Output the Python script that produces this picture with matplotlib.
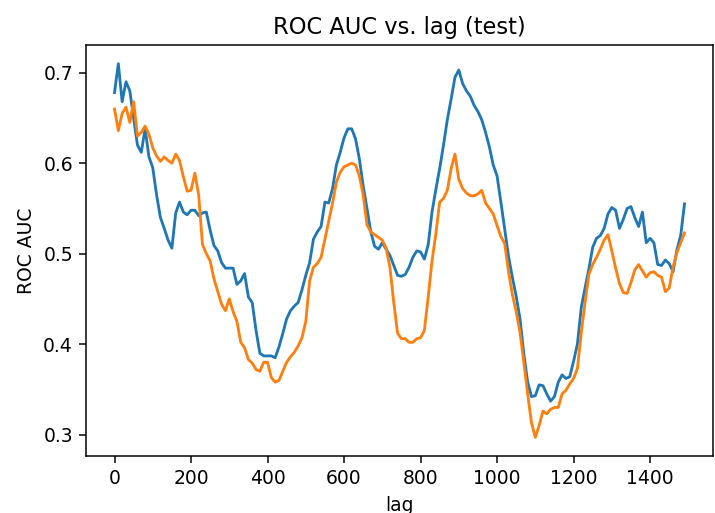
import numpy as np
import matplotlib
matplotlib.use("Agg")
from matplotlib import pyplot as plt

# lags tested (step 10)
lags = np.arange(0, 1500, 10)

# ROC AUC of the first model (blue)
auc_blue = [
    0.678, 0.710, 0.668, 0.690, 0.680, 0.650, 0.620, 0.612, 0.638, 0.607,
    0.595, 0.565, 0.540, 0.528, 0.515, 0.506, 0.545, 0.557, 0.546, 0.543,
    0.548, 0.548, 0.542, 0.545, 0.546, 0.526, 0.509, 0.503, 0.490, 0.484,
    0.484, 0.484, 0.466, 0.470, 0.478, 0.452, 0.446, 0.415, 0.390, 0.387,
    0.387, 0.387, 0.385, 0.397, 0.412, 0.428, 0.437, 0.442, 0.446, 0.460,
    0.476, 0.490, 0.516, 0.524, 0.530, 0.557, 0.556, 0.572, 0.598, 0.612,
    0.628, 0.638, 0.638, 0.627, 0.605, 0.575, 0.550, 0.524, 0.508, 0.505,
    0.512, 0.505, 0.498, 0.487, 0.476, 0.475, 0.477, 0.485, 0.496, 0.503,
    0.502, 0.494, 0.510, 0.546, 0.571, 0.594, 0.620, 0.648, 0.671, 0.695,
    0.703, 0.688, 0.680, 0.674, 0.664, 0.657, 0.648, 0.634, 0.618, 0.598,
    0.586, 0.557, 0.527, 0.497, 0.474, 0.453, 0.428, 0.389, 0.358, 0.342,
    0.343, 0.355, 0.354, 0.345, 0.337, 0.342, 0.358, 0.366, 0.362, 0.364,
    0.381, 0.400, 0.440, 0.462, 0.483, 0.507, 0.517, 0.520, 0.528, 0.544,
    0.551, 0.548, 0.528, 0.538, 0.550, 0.552, 0.540, 0.530, 0.546, 0.512,
    0.517, 0.512, 0.488, 0.487, 0.493, 0.489, 0.480, 0.504, 0.520, 0.555,
]

# ROC AUC of the second model (orange)
auc_orange = [
    0.660, 0.636, 0.655, 0.662, 0.645, 0.668, 0.630, 0.634, 0.641, 0.632,
    0.617, 0.608, 0.602, 0.607, 0.603, 0.600, 0.610, 0.603, 0.585, 0.569,
    0.570, 0.589, 0.565, 0.510, 0.500, 0.492, 0.472, 0.458, 0.444, 0.437,
    0.450, 0.436, 0.425, 0.402, 0.396, 0.383, 0.379, 0.372, 0.370, 0.380,
    0.380, 0.363, 0.358, 0.360, 0.370, 0.380, 0.386, 0.391, 0.398, 0.407,
    0.425, 0.470, 0.485, 0.489, 0.496, 0.516, 0.536, 0.556, 0.579, 0.590,
    0.596, 0.598, 0.600, 0.598, 0.586, 0.565, 0.532, 0.524, 0.521, 0.518,
    0.515, 0.506, 0.485, 0.446, 0.412, 0.406, 0.406, 0.402, 0.402, 0.406,
    0.407, 0.415, 0.452, 0.492, 0.522, 0.557, 0.561, 0.570, 0.594, 0.610,
    0.582, 0.572, 0.567, 0.564, 0.564, 0.566, 0.570, 0.556, 0.550, 0.544,
    0.531, 0.519, 0.511, 0.480, 0.455, 0.436, 0.413, 0.380, 0.345, 0.313,
    0.297, 0.310, 0.326, 0.323, 0.328, 0.330, 0.330, 0.345, 0.349, 0.356,
    0.362, 0.373, 0.412, 0.446, 0.477, 0.488, 0.496, 0.505, 0.515, 0.521,
    0.503, 0.484, 0.467, 0.457, 0.456, 0.468, 0.482, 0.488, 0.481, 0.474,
    0.479, 0.480, 0.476, 0.474, 0.458, 0.462, 0.485, 0.501, 0.512, 0.523,
]

fig = plt.figure(figsize=(715 / 135, 513 / 135), dpi=135)
ax = fig.add_axes([86 / 715, 57 / 513, 627 / 715, 411 / 513])

ax.plot(lags, auc_blue)
ax.plot(lags, auc_orange)

ax.set_title("ROC AUC vs. lag (test)")
ax.set_xlabel("lag")
ax.set_ylabel("ROC AUC")
ax.set_yticks([0.3, 0.4, 0.5, 0.6, 0.7])

fig.savefig("out.png", dpi=135)
